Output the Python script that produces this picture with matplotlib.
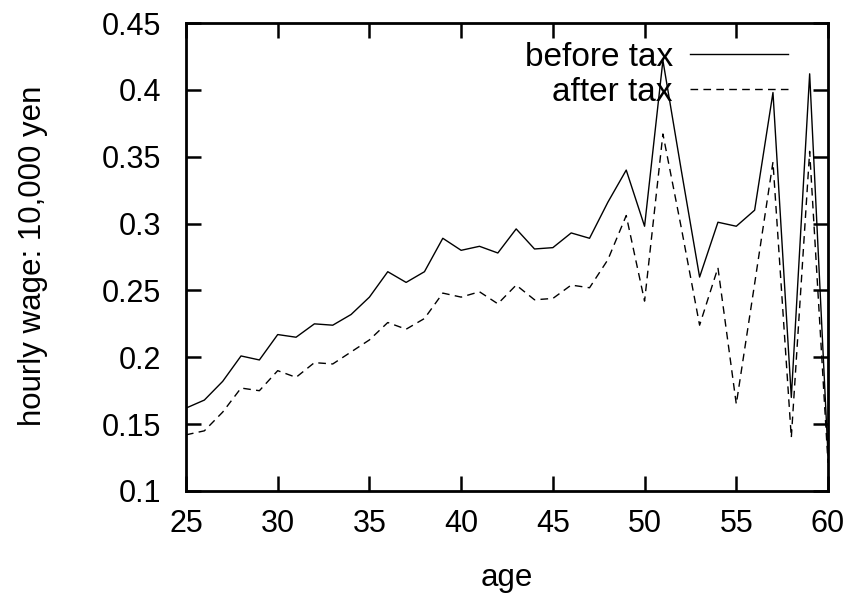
import matplotlib
matplotlib.use("Agg")
import matplotlib.pyplot as plt

plt.rcParams['font.family'] = ['Liberation Sans', 'DejaVu Sans']

# age 25..60
age = list(range(25, 61))
before_tax = [0.162, 0.168, 0.182, 0.201, 0.198, 0.217, 0.215, 0.225, 0.224, 0.232,
              0.245, 0.264, 0.256, 0.264, 0.289, 0.280, 0.283, 0.278, 0.296, 0.281,
              0.282, 0.293, 0.289, 0.316, 0.340, 0.298, 0.422, 0.340, 0.260, 0.301,
              0.298, 0.310, 0.398, 0.170, 0.412, 0.127]
after_tax = [0.142, 0.145, 0.159, 0.177, 0.175, 0.190, 0.185, 0.196, 0.195, 0.204,
             0.213, 0.226, 0.221, 0.229, 0.248, 0.245, 0.249, 0.240, 0.254, 0.243,
             0.244, 0.254, 0.252, 0.273, 0.306, 0.242, 0.367, 0.297, 0.224, 0.267,
             0.165, 0.255, 0.346, 0.140, 0.354, 0.121]

fig = plt.figure(figsize=(8.57, 5.99), dpi=100)
ax = fig.add_axes([186/857, 1-491/599, (828-186)/857, (491-23)/599])

ax.plot(age, before_tax, color='black', lw=1.0, label='before tax')
ax.plot(age, after_tax, color='black', lw=1.0, dashes=(5.5, 3.8), label='after tax')

ax.set_xlim(25, 60)
ax.set_ylim(0.1, 0.45)
ax.set_xticks(range(25, 61, 5))
ax.set_yticks([0.1, 0.15, 0.2, 0.25, 0.3, 0.35, 0.4, 0.45])
ax.set_yticklabels(['0.1', '0.15', '0.2', '0.25', '0.3', '0.35', '0.4', '0.45'])

for s in ax.spines.values():
    s.set_linewidth(2.0)
ax.tick_params(direction='in', length=11, width=1.8, top=True, right=True,
               labelsize=22)
ax.tick_params(axis='x', pad=13)
ax.tick_params(axis='y', pad=18)

fig.text(507/857, 1-578/599, 'age', ha='center', va='center', fontsize=22.5)
fig.text(33/857, 1-256/599, 'hourly wage: 10,000 yen', ha='center', va='center',
         rotation=90, fontsize=22.5)

ax.legend(loc='upper right', bbox_to_anchor=(1 - 40/642, 1 - 19/468),
          frameon=False, markerfirst=False, fontsize=24, handlelength=2.95,
          handletextpad=0.5, labelspacing=0.12, borderaxespad=0, borderpad=0)

fig.savefig('out.png', dpi=100)
